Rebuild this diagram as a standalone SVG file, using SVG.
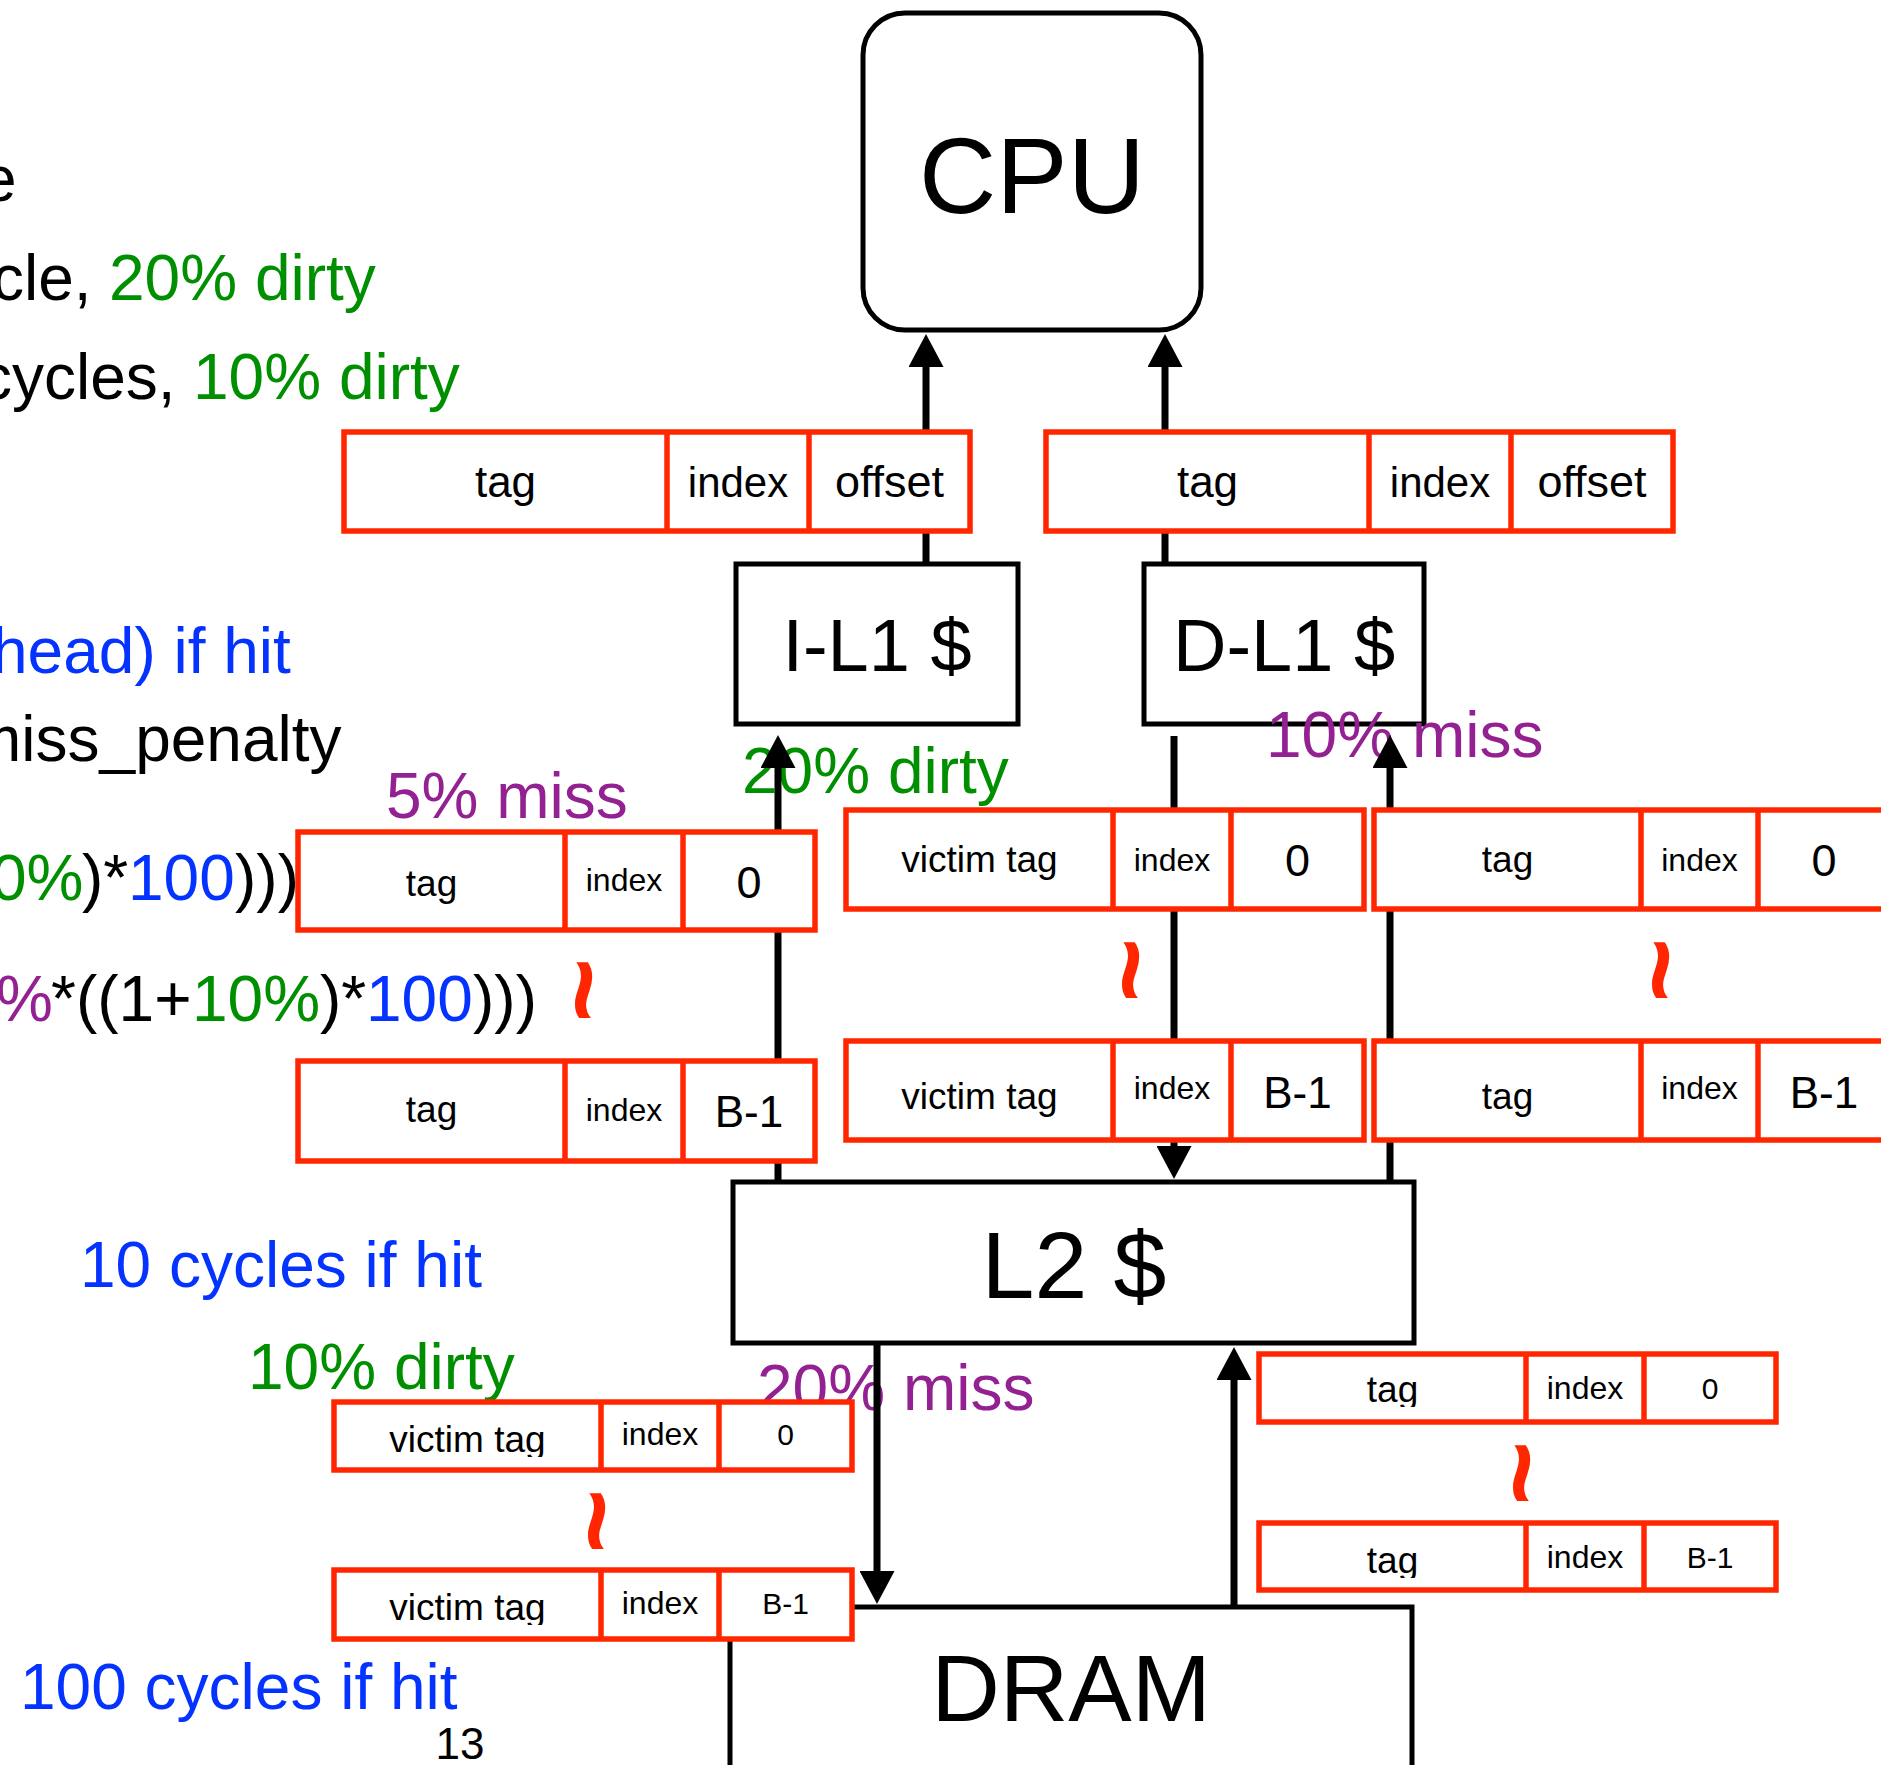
<svg xmlns="http://www.w3.org/2000/svg" width="1881" height="1765" viewBox="0 0 1881 1765">
<style>
.blk{fill:#fff;stroke:#000;stroke-width:5}
.red{fill:#fff;stroke:#ff2600;stroke-width:5.5}
.dv{stroke:#ff2600;stroke-width:5.5}
text{font-family:"Liberation Sans",Arial,Helvetica,sans-serif;fill:#000}
.c{text-anchor:middle}
.g{fill:#008f00}.p{fill:#942192}.b{fill:#0433ff}.k{fill:#000}
.f62{font-size:64px}
.tl{font-size:110px;font-weight:bold;fill:#ff2600;text-anchor:middle}
.conn{stroke:#000;stroke-width:7;fill:none;marker-end:url(#ah)}
</style>
<defs>
<marker id="ah" markerUnits="userSpaceOnUse" markerWidth="33" markerHeight="35" viewBox="0 0 33 35" refX="1" refY="17.5" orient="auto">
<path d="M0,0 L33,17.5 L0,35 Z" fill="#000"/>
</marker>
<clipPath id="cLL1"><rect x="330" y="1380" width="280" height="77"/></clipPath>
<clipPath id="cLL2"><rect x="330" y="1550" width="280" height="75"/></clipPath>
<clipPath id="cLT1"><rect x="1255" y="1340" width="280" height="67"/></clipPath>
<clipPath id="cLT2"><rect x="1255" y="1510" width="280" height="68"/></clipPath>
</defs>

<g id="cpu"><rect class="blk" x="863" y="13" width="338" height="317" rx="42"/><text class="c" x="1032" y="213" font-size="107">CPU</text></g>
<g id="il1"><rect class="blk" x="736" y="564" width="282" height="160"/><text class="c" x="877" y="671" font-size="74">I-L1 $</text></g>
<g id="dl1"><rect class="blk" x="1144" y="564" width="280" height="160"/><text class="c" x="1284" y="671" font-size="74">D-L1 $</text></g>
<g id="l2"><rect class="blk" x="733" y="1182" width="681" height="161"/><text class="c" x="1074" y="1298" font-size="95">L2 $</text></g>
<g id="dram"><rect class="blk" x="730" y="1607" width="682" height="220"/><text class="c" x="1071" y="1721" font-size="95">DRAM</text></g>

<g id="notes" class="f62">
<text x="-19" y="201">e</text>
<text y="300"><tspan x="-8">cle, </tspan><tspan class="g" x="109">20% dirty</tspan></text>
<text y="399"><tspan x="-20">cycles, </tspan><tspan class="g" x="193">10% dirty</tspan></text>
<text class="b" x="-8" y="673">head) if hit</text>
<text x="-32" y="761">miss_penalty</text>
<text y="900"><tspan class="g" x="-9">0%</tspan><tspan x="82">)*</tspan><tspan class="b" x="128">100</tspan><tspan x="235">)))</tspan></text>
<text y="1021"><tspan class="p" x="-4">%</tspan><tspan x="51">*((1+</tspan><tspan class="g" x="192">10%</tspan><tspan x="320">)*</tspan><tspan class="b" x="366">100</tspan><tspan x="473">)))</tspan></text>
<text class="b" x="80" y="1287">10 cycles if hit</text>
<text class="b" x="20" y="1709">100 cycles if hit</text>
<text class="p" x="386" y="818">5% miss</text>
<text class="g" x="742" y="793">20% dirty</text>
<text class="p" x="1266" y="757">10% miss</text>
<text class="p" x="757" y="1410">20% miss</text>
<text class="g" x="248" y="1389">10% dirty</text>
<text class="c" x="460" y="1759" font-size="44">13</text>
</g>

<g id="connectors">
<path class="conn" d="M926,564 V366"/>
<path class="conn" d="M1165,564 V366"/>
<path class="conn" d="M778,1182 V767"/>
<path class="conn" d="M1174,736 V1147"/>
<path class="conn" d="M1390,1182 V767"/>
<path class="conn" d="M877,1343 V1572"/>
<path class="conn" d="M1234,1607 V1379"/>
</g>

<g id="addr-i">
<rect class="red" x="344" y="432" width="626" height="99"/><line class="dv" x1="667" y1="432" x2="667" y2="531"/><line class="dv" x1="809" y1="432" x2="809" y2="531"/>
<text class="c" x="505.5" y="497" font-size="44">tag</text><text class="c" x="738" y="497" font-size="42">index</text><text class="c" x="889.5" y="497" font-size="45">offset</text>
</g>
<g id="addr-d">
<rect class="red" x="1046" y="432" width="627" height="99"/><line class="dv" x1="1369" y1="432" x2="1369" y2="531"/><line class="dv" x1="1511" y1="432" x2="1511" y2="531"/>
<text class="c" x="1207.5" y="497" font-size="44">tag</text><text class="c" x="1440" y="497" font-size="42">index</text><text class="c" x="1592" y="497" font-size="45">offset</text>
</g>

<g id="il1-tag0">
<rect class="red" x="298" y="832" width="517" height="98"/><line class="dv" x1="565" y1="832" x2="565" y2="930"/><line class="dv" x1="683" y1="832" x2="683" y2="930"/>
<text class="c" x="431.5" y="896" font-size="37">tag</text><text class="c" x="624" y="891" font-size="32">index</text><text class="c" x="749" y="898" font-size="45">0</text>
</g>
<g id="il1-tagB">
<rect class="red" x="298" y="1061" width="517" height="100"/><line class="dv" x1="565" y1="1061" x2="565" y2="1161"/><line class="dv" x1="683" y1="1061" x2="683" y2="1161"/>
<text class="c" x="431.5" y="1122" font-size="37">tag</text><text class="c" x="624" y="1121" font-size="32">index</text><text class="c" x="749" y="1127" font-size="44">B-1</text>
</g>
<text id="il1-dots" class="tl" transform="translate(585,990) rotate(90)" x="0" y="38">~</text>

<g id="dl1-victim0">
<rect class="red" x="846" y="810" width="518" height="99"/><line class="dv" x1="1113" y1="810" x2="1113" y2="909"/><line class="dv" x1="1231" y1="810" x2="1231" y2="909"/>
<text class="c" x="979.5" y="872" font-size="37">victim tag</text><text class="c" x="1172" y="871" font-size="32">index</text><text class="c" x="1297.5" y="876" font-size="45">0</text>
</g>
<g id="dl1-victimB">
<rect class="red" x="846" y="1041" width="518" height="99"/><line class="dv" x1="1113" y1="1041" x2="1113" y2="1140"/><line class="dv" x1="1231" y1="1041" x2="1231" y2="1140"/>
<text class="c" x="979.5" y="1109" font-size="37">victim tag</text><text class="c" x="1172" y="1099" font-size="32">index</text><text class="c" x="1297.5" y="1108" font-size="44">B-1</text>
</g>
<text id="dl1-vdots" class="tl" transform="translate(1132,970) rotate(90)" x="0" y="38">~</text>

<g id="dl1-tag0">
<rect class="red" x="1374" y="810" width="516" height="99"/><line class="dv" x1="1641" y1="810" x2="1641" y2="909"/><line class="dv" x1="1758" y1="810" x2="1758" y2="909"/>
<text class="c" x="1507.5" y="872" font-size="37">tag</text><text class="c" x="1699.5" y="871" font-size="32">index</text><text class="c" x="1824" y="876" font-size="45">0</text>
</g>
<g id="dl1-tagB">
<rect class="red" x="1374" y="1041" width="516" height="99"/><line class="dv" x1="1641" y1="1041" x2="1641" y2="1140"/><line class="dv" x1="1758" y1="1041" x2="1758" y2="1140"/>
<text class="c" x="1507.5" y="1109" font-size="37">tag</text><text class="c" x="1699.5" y="1099" font-size="32">index</text><text class="c" x="1824" y="1108" font-size="44">B-1</text>
</g>
<text id="dl1-tdots" class="tl" transform="translate(1662,970) rotate(90)" x="0" y="38">~</text>

<g id="l2-victim0">
<rect class="red" x="334" y="1402" width="518" height="68"/><line class="dv" x1="601" y1="1402" x2="601" y2="1470"/><line class="dv" x1="719" y1="1402" x2="719" y2="1470"/>
<text class="c" x="467.5" y="1452" font-size="37" clip-path="url(#cLL1)">victim tag</text><text class="c" x="660" y="1445" font-size="32">index</text><text class="c" x="785.5" y="1445" font-size="30">0</text>
</g>
<g id="l2-victimB">
<rect class="red" x="334" y="1570" width="518" height="69"/><line class="dv" x1="601" y1="1570" x2="601" y2="1639"/><line class="dv" x1="719" y1="1570" x2="719" y2="1639"/>
<text class="c" x="467.5" y="1620" font-size="37" clip-path="url(#cLL2)">victim tag</text><text class="c" x="660" y="1614" font-size="32">index</text><text class="c" x="785.5" y="1614" font-size="30">B-1</text>
</g>
<text id="l2-vdots" class="tl" transform="translate(598,1521) rotate(90)" x="0" y="38">~</text>

<g id="l2-tag0">
<rect class="red" x="1259" y="1354" width="517" height="68"/><line class="dv" x1="1526" y1="1354" x2="1526" y2="1422"/><line class="dv" x1="1644" y1="1354" x2="1644" y2="1422"/>
<text class="c" x="1392.5" y="1402" font-size="37" clip-path="url(#cLT1)">tag</text><text class="c" x="1585" y="1399" font-size="32">index</text><text class="c" x="1710" y="1399" font-size="30">0</text>
</g>
<g id="l2-tagB">
<rect class="red" x="1259" y="1523" width="517" height="67"/><line class="dv" x1="1526" y1="1523" x2="1526" y2="1590"/><line class="dv" x1="1644" y1="1523" x2="1644" y2="1590"/>
<text class="c" x="1392.5" y="1573" font-size="37" clip-path="url(#cLT2)">tag</text><text class="c" x="1585" y="1568" font-size="32">index</text><text class="c" x="1710" y="1568" font-size="30">B-1</text>
</g>
<text id="l2-tdots" class="tl" transform="translate(1523,1473) rotate(90)" x="0" y="38">~</text>
</svg>
